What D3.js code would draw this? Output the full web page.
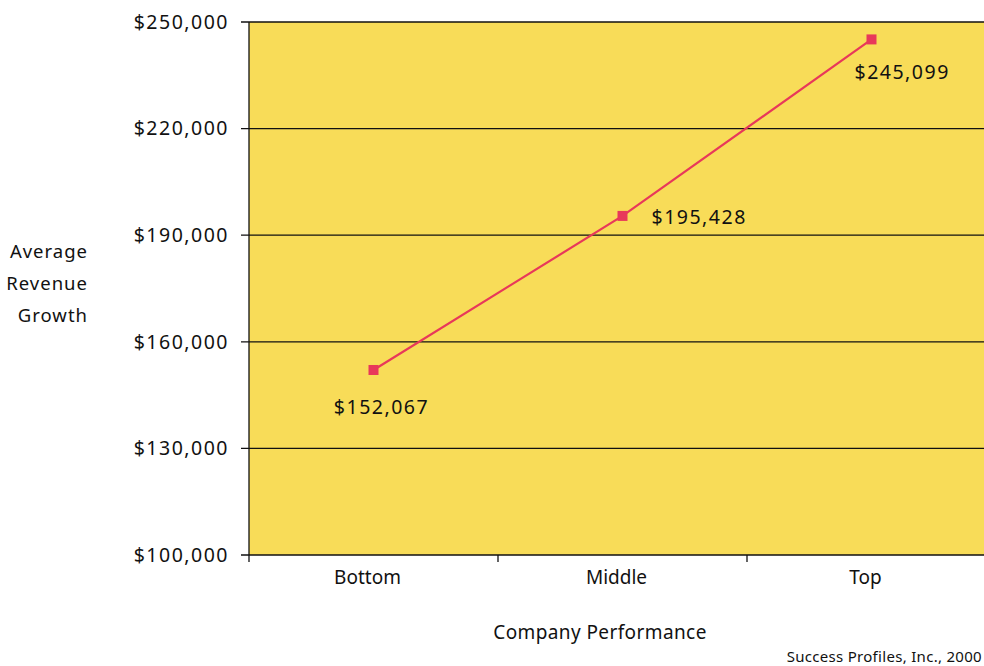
<!DOCTYPE html>
<html>
<head>
<meta charset="utf-8">
<script src="https://cdn.jsdelivr.net/npm/d3@7"></script>
<style>
  html, body { margin: 0; padding: 0; background: #fff; }
  svg { display: block; font-family: "Noto Sans", "Liberation Sans", Arial, sans-serif; }
</style>
</head>
<body>
<svg id="chart" width="984" height="666"></svg>
<script>
const categories = ["Bottom", "Middle", "Top"];
const values = [152067, 195428, 245099];
const valueLabels = ["$152,067", "$195,428", "$245,099"];
const yTicks = [100000, 130000, 160000, 190000, 220000, 250000];
const yTitle = ["Average", "Revenue", "Growth"];
const xTitle = "Company Performance";
const source = "Success Profiles, Inc., 2000";

(function () {
const svg = d3.select("#chart");
const W = 984, H = 666;
const mLeft = 249, mRight = 996, mTop = 22, mBottom = 555;

const x = d3.scaleBand().domain(categories).range([mLeft, mRight]).padding(0);
const y = d3.scaleLinear().domain([100000, 250000]).range([mBottom, mTop]);

// plot background
svg.append("rect")
  .attr("x", mLeft).attr("y", mTop)
  .attr("width", W - mLeft).attr("height", mBottom - mTop)
  .attr("fill", "#F8DC58");

// gridlines
svg.append("g").selectAll("line").data(yTicks).join("line")
  .attr("x1", mLeft - 8).attr("x2", W)
  .attr("y1", d => y(d)).attr("y2", d => y(d))
  .attr("stroke", "#111").attr("stroke-width", 1.3);

// y axis line
svg.append("line")
  .attr("x1", mLeft).attr("x2", mLeft)
  .attr("y1", mTop).attr("y2", mBottom + 7)
  .attr("stroke", "#111").attr("stroke-width", 1.3);

// x ticks at band boundaries
const bounds = categories.map(c => x(c)).slice(1);
svg.append("g").selectAll("line").data(bounds).join("line")
  .attr("x1", d => d).attr("x2", d => d)
  .attr("y1", mBottom).attr("y2", mBottom + 7)
  .attr("stroke", "#111").attr("stroke-width", 1.3);

// y tick labels
const fmt = d => "$" + d3.format(",")(d);
svg.append("g").selectAll("text").data(yTicks).join("text")
  .attr("x", 229).attr("y", d => y(d))
  .attr("dy", "0.35em")
  .attr("text-anchor", "end")
  .attr("font-size", 19.5)
  .attr("letter-spacing", 1.5)
  .attr("fill", "#111")
  .text(fmt);

// x category labels
svg.append("g").selectAll("text").data(categories).join("text")
  .attr("x", d => x(d) + x.bandwidth() / 2 - 6)
  .attr("y", 577)
  .attr("dy", "0.35em")
  .attr("text-anchor", "middle")
  .attr("font-size", 19)
  .attr("fill", "#111")
  .text(d => d);

// line
const pts = categories.map((c, i) => ({ c, v: values[i], label: valueLabels[i] }));
const line = d3.line().x(d => x(d.c) + x.bandwidth() / 2).y(d => y(d.v));
svg.append("path").datum(pts)
  .attr("d", line)
  .attr("fill", "none")
  .attr("stroke", "#E8385A")
  .attr("stroke-width", 2.2);

// markers
svg.append("g").selectAll("rect").data(pts).join("rect")
  .attr("x", d => x(d.c) + x.bandwidth() / 2 - 5)
  .attr("y", d => y(d.v) - 5)
  .attr("width", 10).attr("height", 10)
  .attr("fill", "#E8385A");

// value labels
const offs = [
  { dx: 8, dy: 37, anchor: "middle" },
  { dx: 29, dy: 1, anchor: "start" },
  { dx: -17, dy: 33, anchor: "start" }
];
svg.append("g").selectAll("text").data(pts).join("text")
  .attr("x", (d, i) => x(d.c) + x.bandwidth() / 2 + offs[i].dx)
  .attr("y", (d, i) => y(d.v) + offs[i].dy)
  .attr("dy", "0.35em")
  .attr("text-anchor", (d, i) => offs[i].anchor)
  .attr("font-size", 19.5)
  .attr("letter-spacing", 1.5)
  .attr("fill", "#111")
  .text(d => d.label);

// y title
svg.append("g").selectAll("text").data(yTitle).join("text")
  .attr("x", 88)
  .attr("y", (d, i) => 252 + i * 32)
  .attr("dy", "0.35em")
  .attr("text-anchor", "end")
  .attr("font-size", 18.5)
  .attr("letter-spacing", 1)
  .attr("fill", "#111")
  .text(d => d);

// x title
svg.append("text")
  .attr("x", 600).attr("y", 632)
  .attr("dy", "0.35em")
  .attr("text-anchor", "middle")
  .attr("font-size", 19)
  .attr("letter-spacing", 0.4)
  .attr("fill", "#111")
  .text(xTitle);

// source
svg.append("text")
  .attr("x", 982).attr("y", 657)
  .attr("dy", "0.35em")
  .attr("text-anchor", "end")
  .attr("font-size", 15)
  .attr("letter-spacing", 0.3)
  .attr("fill", "#111")
  .text(source);
})();
</script>
</body>
</html>
